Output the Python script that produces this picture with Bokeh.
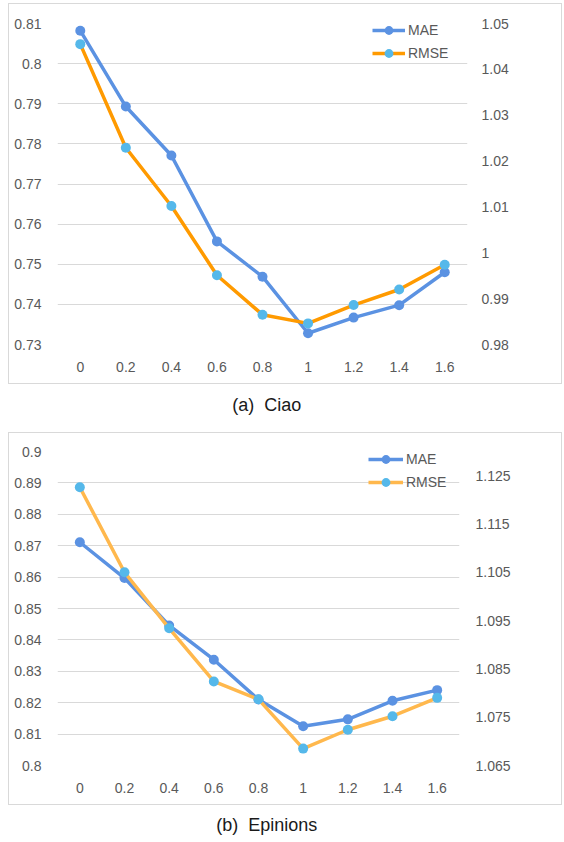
from bokeh.plotting import figure
from bokeh.models import (Range1d, LinearAxis, FixedTicker, CustomJSTickFormatter,
                          Legend, LegendItem, Label, FactorRange, ColumnDataSource)
from bokeh.layouts import column
from bokeh.embed import file_html
from bokeh.resources import INLINE

# ---------------- data ----------------
categories = ["0", "0.2", "0.4", "0.6", "0.8", "1", "1.2", "1.4", "1.6"]

ciao_mae = [0.8082, 0.7893, 0.7771, 0.7557, 0.7469, 0.7328, 0.7367, 0.7398, 0.7480]
ciao_rmse = [1.0455, 1.0229, 1.0102, 0.9951, 0.9865, 0.9846, 0.9886, 0.9920, 0.9974]

epinions_mae = [0.8711, 0.8597, 0.8446, 0.8337, 0.8210, 0.8125, 0.8147, 0.8206, 0.8240]
epinions_rmse = [1.1226, 1.1050, 1.0934, 1.0824, 1.0787, 1.0685, 1.0724, 1.0752, 1.0790]

ciao_left_ticks = [0.73, 0.74, 0.75, 0.76, 0.77, 0.78, 0.79, 0.80, 0.81]
ciao_right_ticks = [0.98, 0.99, 1.00, 1.01, 1.02, 1.03, 1.04, 1.05]
epinions_left_ticks = [0.80, 0.81, 0.82, 0.83, 0.84, 0.85, 0.86, 0.87, 0.88, 0.89, 0.90]
epinions_right_ticks = [1.065, 1.075, 1.085, 1.095, 1.105, 1.115, 1.125]

captions = ["(a)\u00a0 Ciao", "(b)\u00a0 Epinions"]
series_names = ["MAE", "RMSE"]

# ---------------- style ----------------
FONT = "Liberation Sans"
TXT = "#595959"
GRID = "#d9d9d9"
BLUE = "#5B92E2"
LIGHTBLUE = "#55B8EA"
ORANGE1 = "#FF9A00"
ORANGE2 = "#FFB84D"

fmt_code = "return String(parseFloat(tick.toFixed(3)));"


def style_axis(ax, standoff):
    ax.axis_line_color = None
    ax.major_tick_line_color = None
    ax.minor_tick_line_color = None
    ax.major_label_text_font = FONT
    ax.major_label_text_font_size = "14px"
    ax.major_label_text_color = TXT
    ax.major_label_standoff = standoff


def make_chart(mae, rmse, left_ticks, right_ticks, left_range, right_range,
               rmse_color, height, mb_right, mb_top, right_standoff,
               legend_loc, glyph_w, first):
    src = ColumnDataSource(dict(cat=categories, mae=mae, rmse=rmse))
    st = {"border": "1px solid #d9d9d9"}
    if first:
        st["margin-top"] = "3px"
    p = figure(width=554, height=height,
               x_range=FactorRange(factors=categories, range_padding=0, factor_padding=0),
               y_range=Range1d(*left_range),
               output_backend="svg", toolbar_location=None,
               min_border_left=48, min_border_right=mb_right,
               min_border_top=mb_top, min_border_bottom=41,
               outline_line_color=None, styles=st, frame_align=False)
    p.extra_y_ranges = {"right": Range1d(*right_range)}
    rax = LinearAxis(y_range_name="right", ticker=FixedTicker(ticks=right_ticks),
                     formatter=CustomJSTickFormatter(code=fmt_code))
    p.add_layout(rax, "right")

    p.yaxis[0].ticker = FixedTicker(ticks=left_ticks)
    p.yaxis[0].formatter = CustomJSTickFormatter(code=fmt_code)
    style_axis(p.yaxis[0], 10)
    style_axis(rax, right_standoff)
    style_axis(p.xaxis[0], 11)

    p.xgrid.visible = False
    p.ygrid.ticker = FixedTicker(ticks=left_ticks)
    p.ygrid.grid_line_color = GRID
    p.ygrid.grid_line_width = 1

    l1 = p.line(x="cat", y="mae", source=src, line_color=BLUE, line_width=3.5)
    s1 = p.scatter(x="cat", y="mae", source=src, size=10, fill_color=BLUE, line_color=None)
    l2 = p.line(x="cat", y="rmse", source=src, line_color=rmse_color, line_width=3.5,
                y_range_name="right")
    s2 = p.scatter(x="cat", y="rmse", source=src, size=10, fill_color=LIGHTBLUE,
                   line_color=None, y_range_name="right")

    legend = Legend(items=[LegendItem(label=series_names[0], renderers=[l1, s1]),
                           LegendItem(label=series_names[1], renderers=[l2, s2])],
                    location=legend_loc, border_line_color=None,
                    background_fill_alpha=0, padding=0, margin=0, spacing=1,
                    glyph_width=glyph_w, glyph_height=22, label_height=20,
                    label_standoff=3, label_text_font=FONT,
                    label_text_font_size="14px", label_text_color=TXT)
    p.add_layout(legend)
    return p


def make_caption(text, height, y):
    c = figure(width=554, height=height, x_range=Range1d(0, 1), y_range=Range1d(0, 1),
               output_backend="svg", toolbar_location=None, min_border=0,
               x_axis_location=None, y_axis_location=None, outline_line_color=None,
               frame_align=False)
    c.grid.visible = False
    c.add_layout(Label(x=0.466, y=y, y_units="screen", text=text,
                       text_align="center", text_baseline="middle",
                       text_font=FONT, text_font_size="18px", text_color="#1a1a1a"))
    return c


f1 = make_chart(ciao_mae, ciao_rmse, ciao_left_ticks, ciao_right_ticks,
                (0.73, 0.81), (0.98, 1.05), ORANGE1, 381, 96, 19, 8,
                (315, 280), 33, True)
c1 = make_caption(captions[0], 48, 28)
f2 = make_chart(epinions_mae, epinions_rmse, epinions_left_ticks, epinions_right_ticks,
                (0.80, 0.90), (1.065, 1.13), ORANGE2, 373, 104, 18, 10,
                (311, 272), 35, False)
c2 = make_caption(captions[1], 30, 11)

layout = column(f1, c1, f2, c2, styles={"margin-left": "8px"})

open("out.html", "w").write(file_html(layout, INLINE))
